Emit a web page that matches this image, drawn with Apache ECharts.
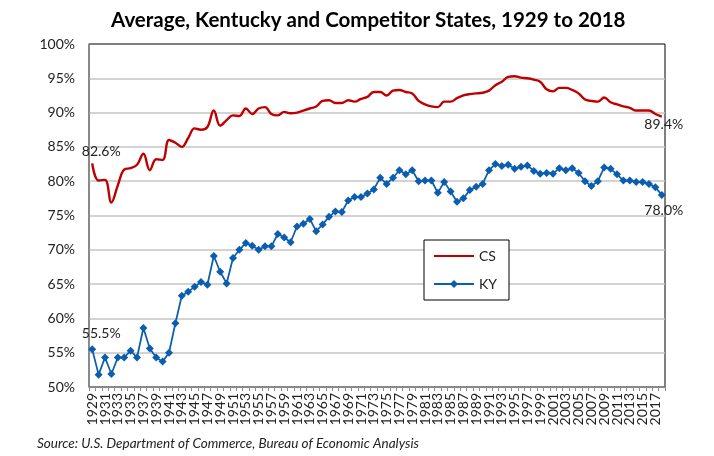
<!DOCTYPE html>
<html>
<head>
<meta charset="utf-8">
<script src="https://cdn.jsdelivr.net/npm/echarts@6/dist/echarts.min.js"></script>
<style>
  html, body { margin: 0; padding: 0; background: #fff; }
  #chart { width: 714px; height: 456px; }
</style>
</head>
<body>
<div id="chart"></div>
<script>
// years 1929..2018
const years = [];
for (let y = 1929; y <= 2018; y++) years.push(String(y));

// CS: competitor states, % of U.S. average
const csValues = [
  82.6, 80.1, 80.2, 76.9, 79.4, 81.7, 81.9, 82.4, 84.0, 81.6,
  83.2, 83.1, 86.0, 85.6, 85.0, 86.3, 87.7, 87.5, 87.9, 90.3,
  88.1, 88.9, 89.6, 89.5, 90.6, 89.8, 90.6, 90.8, 89.8, 89.6,
  90.1, 89.9, 90.0, 90.3, 90.6, 90.9, 91.7, 91.8, 91.4, 91.4,
  91.8, 91.6, 92.0, 92.3, 93.0, 93.0, 92.5, 93.2, 93.3, 93.0,
  92.8, 91.7, 91.2, 90.9, 90.8, 91.6, 91.6, 92.1, 92.5, 92.7,
  92.8, 92.9, 93.2, 94.0, 94.5, 95.2, 95.3, 95.1, 95.0, 94.8,
  94.5, 93.4, 93.1, 93.6, 93.6, 93.3, 92.8, 91.9, 91.7, 91.6,
  92.2, 91.5, 91.2, 90.9, 90.7, 90.3, 90.3, 90.3, 89.8, 89.4
];

// KY: Kentucky, % of U.S. average
const kyValues = [
  55.5, 51.8, 54.3, 51.9, 54.3, 54.3, 55.3, 54.3, 58.6, 55.6,
  54.3, 53.7, 55.0, 59.3, 63.3, 63.9, 64.6, 65.3, 64.9, 69.1,
  66.8, 65.1, 68.8, 70.0, 71.0, 70.6, 70.0, 70.5, 70.5, 72.3,
  71.8, 71.1, 73.4, 73.8, 74.5, 72.7, 73.7, 74.8, 75.6, 75.5,
  77.2, 77.7, 77.7, 78.2, 78.8, 80.5, 79.6, 80.5, 81.6, 81.0,
  81.6, 80.0, 80.1, 80.1, 78.3, 79.9, 78.5, 77.0, 77.5, 78.7,
  79.2, 79.6, 81.6, 82.5, 82.2, 82.4, 81.8, 82.1, 82.3, 81.5,
  81.1, 81.2, 81.1, 81.9, 81.6, 81.9, 81.2, 80.0, 79.3, 80.0,
  82.0, 81.8, 81.0, 80.1, 80.1, 79.9, 79.9, 79.6, 79.1, 78.0
];

const FONT = 'Lato';
const TEXT = '#222';

// first and last points carry a value label; extra = per-point symbol override
function withEndLabels(values, firstOff, lastOff, extra) {
  const last = values.length - 1;
  return values.map((v, i) => {
    if (i === 0) return { value: v, ...extra, label: { show: true, position: 'top', offset: firstOff } };
    if (i === last) return { value: v, ...extra, label: { show: true, position: 'bottom', offset: lastOff } };
    return v;
  });
}

const LABEL = {
  color: TEXT, fontFamily: FONT, fontSize: 14,
  formatter: p => p.value.toFixed(1) + '%',
};

const c = echarts.init(document.getElementById('chart'));
c.setOption({
  animation: false,
  textStyle: { fontFamily: FONT },
  title: {
    text: 'Average, Kentucky and Competitor States, 1929 to 2018',
    left: 106, top: 5,
    textStyle: { fontFamily: FONT, fontSize: 20.5, fontWeight: 'bold', color: '#000' },
  },
  graphic: [{
    type: 'text', left: 37, top: 437,
    style: {
      text: 'Source: U.S. Department of Commerce, Bureau of Economic Analysis',
      font: 'italic 13.5px Lato', fill: TEXT,
    },
  }],
  legend: {
    left: 424, top: 240, orient: 'vertical',
    backgroundColor: '#fff', borderColor: '#000', borderWidth: 1,
    padding: [9, 12, 9, 9], itemGap: 14, itemWidth: 40, itemHeight: 10,
    textStyle: { color: TEXT, fontFamily: FONT, fontSize: 14 },
    data: [
      { name: 'CS', itemStyle: { opacity: 0 } },
      { name: 'KY' },
    ],
  },
  grid: {
    left: 89, right: 49, top: 44, bottom: 69,
    show: true, borderColor: '#000', borderWidth: 1,
  },
  xAxis: {
    type: 'category', data: years, boundaryGap: true,
    axisLine: { lineStyle: { color: '#8c8c8c', width: 1.5 } },
    axisTick: { show: true, interval: 0, length: 4, lineStyle: { color: '#8c8c8c' } },
    axisLabel: {
      interval: 0, rotate: 90, margin: 6, hideOverlap: false,
      formatter: (v, i) => (i % 2 === 0 ? v : ''),
      color: TEXT, fontSize: 14, fontFamily: FONT,
    },
  },
  yAxis: {
    type: 'value', min: 50, max: 100, interval: 5,
    axisLine: { show: true, lineStyle: { color: '#8c8c8c', width: 1.5 } },
    axisTick: { show: false },
    axisLabel: { formatter: '{value}%', color: TEXT, fontSize: 14, fontFamily: FONT, margin: 14 },
    splitLine: { showMinLine: false, showMaxLine: false, lineStyle: { color: '#c4c4c4', width: 1.5 } },
  },
  series: [
    {
      name: 'CS', type: 'line', smooth: 0.4, symbol: 'none', showAllSymbol: true,
      data: withEndLabels(csValues, [9, 0], [2, -4], { symbol: 'circle', symbolSize: 0.1 }),
      lineStyle: { color: '#C00000', width: 2.4 },
      itemStyle: { color: '#C00000' },
      label: LABEL,
      z: 3,
    },
    {
      name: 'KY', type: 'line', symbol: 'diamond', symbolSize: 8, showAllSymbol: true,
      data: withEndLabels(kyValues, [9, 0], [2, 0], {}),
      lineStyle: { color: '#0B5EAF', width: 1.75 },
      itemStyle: { color: '#0B5EAF' },
      label: LABEL,
      z: 4,
    },
  ],
});
</script>
</body>
</html>
